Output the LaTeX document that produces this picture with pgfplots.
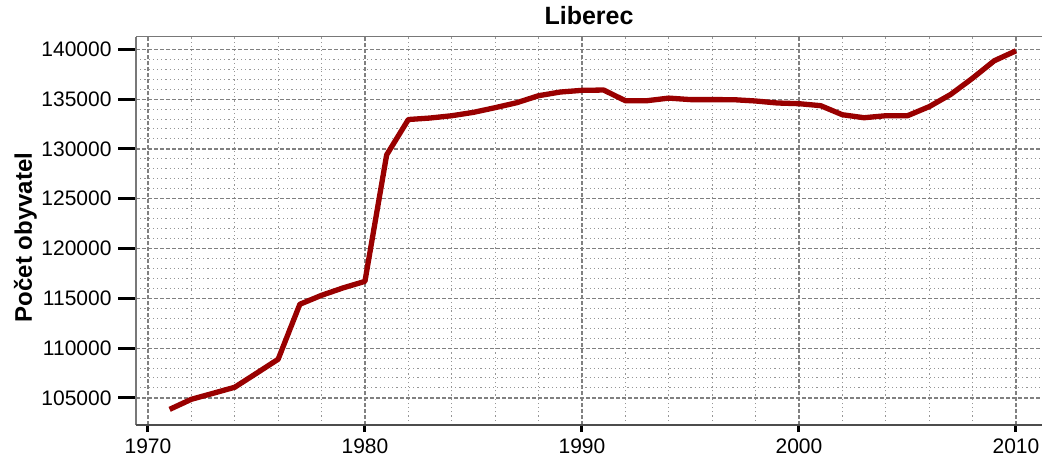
\documentclass[border=0pt]{standalone}
\usepackage{fontspec}
\setmainfont{Liberation Sans}
\usepackage{pgfplots}
\pgfplotsset{compat=1.18}
\definecolor{linered}{RGB}{153,0,0}
\definecolor{majgrid}{RGB}{128,128,128}
\definecolor{mingrid}{RGB}{150,150,150}
\definecolor{frameclr}{RGB}{120,120,120}
\begin{document}
\begin{tikzpicture}
\useasboundingbox (0,0) rectangle (1042pt,456pt);
\begin{axis}[
  name=ax,
  at={(136pt,31pt)}, anchor=south west,
  scale only axis, width=906pt, height=388.3pt,
  xmin=1969.45, xmax=2011.2, ymin=102279, ymax=141265,
  xtick={1970,1980,...,2010}, ytick={105000,110000,...,140000},
  scaled y ticks=false, scaled x ticks=false,
  minor x tick num=4, minor y tick num=4,
  grid=both,
  major grid style={dash pattern=on 4pt off 2pt, majgrid, line width=1.2pt},
  minor grid style={dash pattern=on 1.2pt off 3pt, mingrid, line width=1pt},
  axis line style={draw=none},
  tick align=outside,
  xtick pos=bottom, ytick pos=left,
  major tick length=18pt,
  minor tick length=0pt,
  tick style={black, line width=3pt},
  xtick style={/pgfplots/major tick length=7pt},
  /pgf/number format/fixed,
  /pgf/number format/precision=0,
  /pgf/number format/1000 sep={},
  /pgf/number format/assume math mode=true,
  yticklabel style={font=\fontsize{21}{22}\selectfont, xshift=-3pt},
  xticklabel style={font=\fontsize{21}{22}\selectfont, inner sep=0pt, yshift=4.5pt},
  title={Liberec},
  title style={font=\bfseries\fontsize{25}{25}\selectfont, at={(0.5,1)}, anchor=base, yshift=6.7pt},
  ylabel={Počet obyvatel},
  ylabel style={font=\bfseries\fontsize{24}{24}\selectfont, at={(axis description cs:-0.1148,0.483)}, anchor=base, rotate=0},
]
\addplot[linered, line width=5.3pt, line join=round] table {
1971 103850
1972 104860
1973 105460
1974 106070
1975 107470
1976 108880
1977 114400
1978 115300
1979 116050
1980 116700
1981 129400
1982 132950
1983 133100
1984 133330
1985 133670
1986 134140
1987 134640
1988 135340
1989 135710
1990 135880
1991 135910
1992 134840
1993 134840
1994 135100
1995 134950
1996 134950
1997 134940
1998 134810
1999 134610
2000 134540
2001 134340
2002 133430
2003 133130
2004 133330
2005 133330
2006 134240
2007 135480
2008 137100
2009 138850
2010 139850
};
\end{axis}
\draw[frameclr, line width=2pt] (ax.south west) -- (ax.north west);
\draw[frameclr, line width=1.5pt] (ax.north west) -- (ax.north east);
\draw[black!70, line width=2pt] (ax.south west) -- (ax.south east);
\end{tikzpicture}
\end{document}
